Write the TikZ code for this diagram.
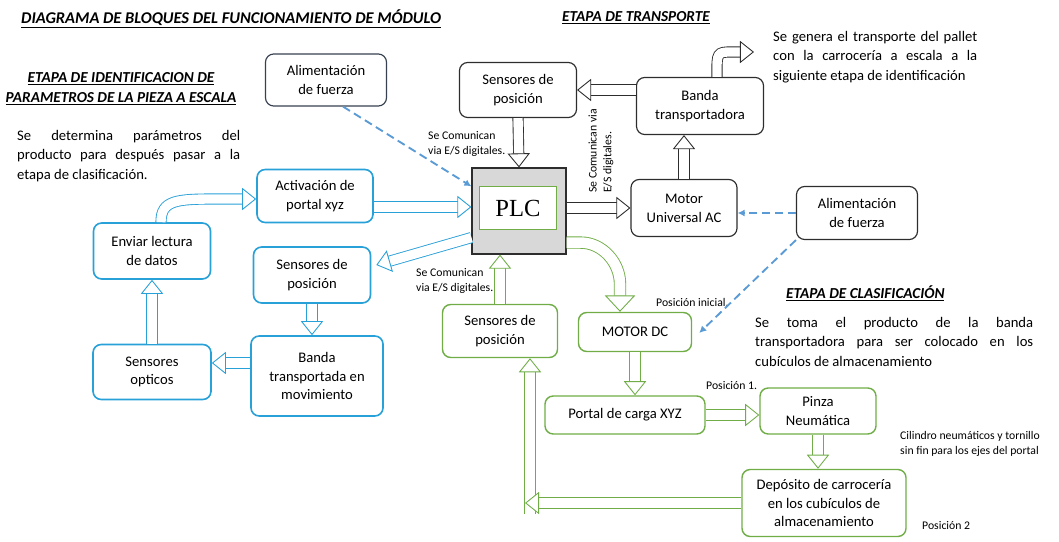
\documentclass[tikz,border=0pt]{standalone}
\usepackage{fontspec}
\setmainfont{Carlito}
\newfontfamily\plcfont{Liberation Serif}
\usepackage{tikz}
\usetikzlibrary{arrows.meta,calc}

\definecolor{boxblue}{RGB}{40,160,216}
\definecolor{boxgreen}{RGB}{112,173,71}
\definecolor{boxdark}{RGB}{45,45,45}
\definecolor{boxslate}{RGB}{55,65,80}
\definecolor{dashblue}{RGB}{91,155,213}
\definecolor{plcgray}{RGB}{216,216,216}

\tikzset{
    box/.style={rounded corners=7pt, align=center, line width=1pt,
        font=\fontsize{12.5}{16}\selectfont},
    bluebox/.style={box, draw=boxblue, line width=1.4pt},
    greenbox/.style={box, draw=boxgreen, line width=1.2pt},
    darkbox/.style={box, draw=#1},
    darkbox/.default=boxdark,
    blockarr/.style={draw=#1, line width=0.75pt, double=white, double distance=8pt,
        -{Triangle[fill=white, length=12pt, width=19pt]}}, % hollow block arrow
    feed/.style={dashblue, line width=1.6pt, dash pattern=on 7pt off 4pt,
        -{Latex[length=6pt, width=6pt]}},
    title/.style={font=\fontsize{13}{17}\selectfont\bfseries\itshape, inner sep=0pt},
    para/.style={font=\fontsize{12.5}{16.5}\selectfont, align=justify, inner sep=0pt},
    note/.style={font=\fontsize{10}{12.5}\selectfont, align=left, inner sep=0pt},
}
\def\px{0.03cm}

\begin{document}
\begin{tikzpicture}[x=\px, y=-\px]
    \useasboundingbox (0,0) rectangle (1059,542);
    % titulos y textos
    \draw
        node[title, font=\fontsize{14}{17}\selectfont\bfseries\itshape, anchor=west] (ttl) at (21,19) {\underline{DIAGRAMA DE BLOQUES DEL FUNCIONAMIENTO DE MÓDULO}}
        node[title, anchor=west] (ttltr) at (562,18) {\underline{ETAPA DE TRANSPORTE}}
        node[title, align=center] (ttlid) at (121,89) {\underline{ETAPA DE IDENTIFICACION DE}\\\underline{PARAMETROS DE LA PIEZA A ESCALA}}
        node[title, anchor=west] (ttlcl) at (786,293) {\underline{ETAPA DE CLASIFICACIÓN}}
        node[para, text width=6.69cm, anchor=north west] (parid) at (17,130) {Se determina parámetros del\linebreak producto para después pasar a la\linebreak etapa de clasificación.}
        node[para, text width=6.12cm, anchor=north west] (partr) at (773,31) {Se genera el transporte del pallet\linebreak con la carrocería a escala a la\linebreak siguiente etapa de identificación}
        node[para, text width=8.34cm, anchor=north west] (parcl) at (755,317) {Se toma el producto de la banda\linebreak transportadora para ser colocado en los\linebreak cubículos de almacenamiento}
        node[note, anchor=west] (comt) at (428,144) {Se Comunican\\via E/S digitales.}
        node[note, anchor=west] (comb) at (416,281) {Se Comunican\\via E/S digitales.}
        node[note, rotate=90] (comr) at (601,151) {Se Comunican via\\E/S digitales.}
        node[note, anchor=west] (posini) at (656,302) {Posición inicial.}
        node[note, anchor=west] (posuno) at (706,386) {Posición 1.}
        node[note, anchor=west] (cil) at (900,444) {Cilindro neumáticos y tornillo\\sin fin para los ejes del portal}
        node[note, anchor=west] (posdos) at (922,526) {Posición 2}
    ;
    % bloques
    \draw
        node[darkbox=boxslate, minimum width=3.63cm, minimum height=1.56cm] (alil) at (326,80) {Alimentación\\de fuerza}
        node[bluebox, minimum width=3.48cm, minimum height=1.59cm] (act) at (315,196) {Activación de\\portal xyz}
        node[bluebox, minimum width=3.51cm, minimum height=1.68cm] (env) at (152,251) {Enviar lectura\\de datos}
        node[bluebox, minimum width=3.51cm, minimum height=1.68cm] (senb) at (312,275) {Sensores de\\posición}
        node[bluebox, minimum width=3.54cm, minimum height=1.65cm] (opt) at (152,372) {Sensores\\opticos}
        node[bluebox, minimum width=3.96cm, minimum height=2.40cm] (band) at (317,376) {Banda\\transportada en\\movimiento}
        node[draw=boxdark, fill=plcgray, line width=1pt, minimum width=2.82cm, minimum height=2.58cm] (plc) at (519,211) {}
        node[draw=boxgreen, fill=white, line width=1.2pt, minimum width=2.31cm, minimum height=1.29cm,
            font=\plcfont\fontsize{21}{24}\selectfont] (plcin) at (518,208) {PLC}
        node[darkbox, minimum width=3.51cm, minimum height=1.65cm] (sent) at (518,90) {Sensores de\\posición}
        node[darkbox, minimum width=3.81cm, minimum height=1.71cm] (bandt) at (700,106) {Banda\\transportadora}
        node[darkbox, minimum width=3.18cm, minimum height=1.71cm] (motac) at (684,208) {Motor\\Universal AC}
        node[darkbox, minimum width=3.63cm, minimum height=1.59cm] (alir) at (857,213) {Alimentación\\de fuerza}
        node[greenbox, minimum width=3.45cm, minimum height=1.59cm] (seng) at (500,331) {Sensores de\\posición}
        node[greenbox, minimum width=3.39cm, minimum height=1.17cm] (motdc) at (635,332) {MOTOR DC}
        node[greenbox, minimum width=4.80cm, minimum height=1.14cm] (portal) at (625,415) {Portal de carga XYZ}
        node[greenbox, minimum width=3.48cm, minimum height=1.38cm] (pinza) at (818,411) {Pinza\\Neumática}
        node[greenbox, minimum width=4.92cm, minimum height=2.01cm] (dep) at (824,503) {Depósito de carrocería\\en los cubículos de\\almacenamiento}
    ;
    \coordinate (salida) at (754,52);
    \coordinate (fbtip) at (525,503);
    \coordinate (fbfoot) at (530,514);
    % etapa de transporte
    \draw
        [blockarr=boxdark]
        (bandt.west |- sent.east) -- (sent.east)
    ;
    \draw
        [blockarr=boxdark]
        (sent.south) -- (plc.north)
    ;
    \draw
        [blockarr=boxdark]
        (plc.east |- motac.west) -- (motac.west)
    ;
    \draw
        [blockarr=boxdark]
        (motac.north) -- (motac.north |- bandt.south)
    ;
    \draw
        [blockarr=boxdark]
        ($(bandt.north)+(17,0)$) -- ++(0,-10)
        .. controls +(0,-16) and +(-16,0) .. ($(salida)+(-18,0)$) -- (salida)
    ;
    % etapa de identificacion
    \draw
        [blockarr=boxblue]
        ($(act.east)+(0,11)$) -- ($(act.east -| plc.west)+(0,11)$)
    ;
    \draw
        [blockarr=boxblue]
        ($(plc.south west)+(0,-17)$) -- ($(senb.east)+(5,-10)$)
    ;
    \draw
        [blockarr=boxblue]
        ($(env.north)+(9,0)$) .. controls +(0,-22) and +(-40,0) .. ($(act.west)+(-40,3)$) -- ($(act.west)+(0,3)$)
    ;
    \draw
        [blockarr=boxblue]
        (opt.north) -- (env.south)
    ;
    \draw
        [blockarr=boxblue]
        ($(band.west)+(0,-13)$) -- ($(band.west -| opt.east)+(0,-13)$)
    ;
    \draw
        [blockarr=boxblue]
        (senb.south) -- (senb.south |- band.north)
    ;
    % etapa de clasificacion
    \draw
        [blockarr=boxgreen]
        (seng.north) -- (seng.north |- plc.south)
    ;
    \draw
        [blockarr=boxgreen, double distance=9pt, -{Triangle[fill=white, length=14pt, width=26pt]}]
        ($(plc.south east)+(0,-12)$) -- ++(14,0)
        .. controls +(22,0) and +(0,-21) .. ($(motdc.north)+(-15,-28)$) -- ($(motdc.north)+(-15,0)$)
    ;
    \draw
        [blockarr=boxgreen]
        (motdc.south) -- (motdc.south |- portal.north)
    ;
    \draw
        [blockarr=boxgreen]
        (portal.east) -- (portal.east -| pinza.west)
    ;
    \draw
        [blockarr=boxgreen]
        (pinza.south) -- (pinza.south |- dep.north)
    ;
    \draw
        [blockarr=boxgreen]
        (fbfoot) -- (fbfoot |- seng.south)
    ;
    \draw
        [blockarr=boxgreen]
        (dep.west) -- (fbtip)
    ;
    % alimentacion
    \draw
        [feed]
        ($(alil.south)+(17,0)$) -- ($(plc.north west)+(0,19)$)
    ;
    \draw
        [feed]
        (alir.west) -- (alir.west -| motac.east)
    ;
    \draw
        [feed]
        (alir.south west) -- ($(motdc.east)+(7,1)$)
    ;
\end{tikzpicture}
\end{document}
